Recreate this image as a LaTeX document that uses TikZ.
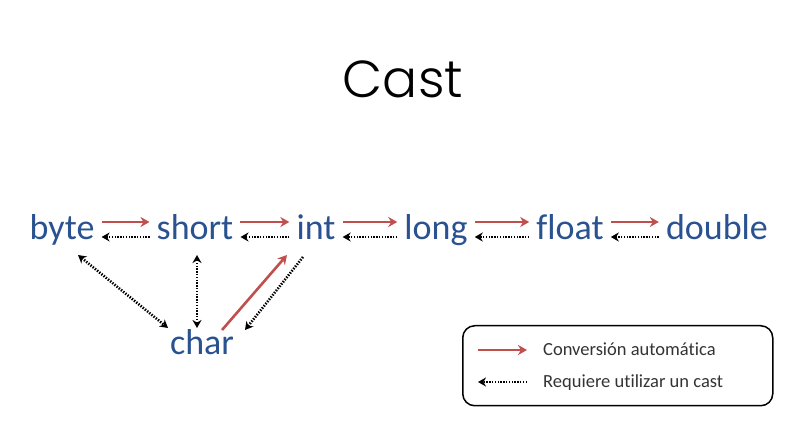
\documentclass[tikz,border=0pt]{standalone}
\usepackage{fontspec}
\setmainfont{Carlito}[RawFeature={-liga}]
\newfontfamily\titlefont{Poppins}[UprightFont=* Light]
\usetikzlibrary{arrows.meta,calc}
\definecolor{wordblue}{HTML}{2A5291}
\definecolor{convred}{HTML}{C0504D}
\definecolor{legendgray}{HTML}{333333}
\begin{document}
\begin{tikzpicture}[x=1pt,y=1pt,
  word/.style={anchor=base,text=wordblue,font=\fontsize{36}{40}\selectfont,inner sep=7pt},
  autoconv/.style={draw=convred,line width=2.6pt,-{Stealth[length=9pt,width=10pt]}},
  castconv/.style={draw=black,line width=2.6pt,dash pattern=on 1.4pt off 1.4pt,-{Stealth[length=8pt,width=9pt]}},
  castboth/.style={castconv,{Stealth[length=8pt,width=9pt]}-{Stealth[length=8pt,width=9pt]}},
  legendtext/.style={anchor=base west,text=legendgray,font=\fontsize{18.5}{22}\selectfont,inner sep=0pt}]
\useasboundingbox (0,0) rectangle (804,-443);
\node[anchor=base,font=\titlefont\fontsize{52}{60}\selectfont] (title) at (403,-98) {Cast};
\node[word] (byte) at (62,-240) {byte};
\node[word] (short) at (195,-240) {short};
\node[word] (int) at (316,-240) {int};
\node[word] (long) at (436,-240) {long};
\node[word] (float) at (570,-240) {float};
\node[word] (double) at (717,-240) {double};
\node[word] (char) at (202,-355) {char};
\foreach \a/\b in {byte/short,short/int,int/long,long/float,float/double}{
  \draw[autoconv] ([yshift=18pt]\a.base east) -- ([yshift=18pt]\b.base west);
  \draw[castconv] ([yshift=3pt]\b.base west) -- ([yshift=3pt]\a.base east);
}
\draw[castboth] ($(byte.base)+(16,-15)$) -- ($(char.base)+(-34,27)$);
\draw[castboth] ($(short.base)+(2,-15)$) -- ($(char.base)+(-5,27)$);
\draw[autoconv] ($(char.base)+(20,25)$) -- ($(int.base)+(-29,-15)$);
\draw[castconv] ($(int.base)+(-13,-17)$) -- ($(char.base)+(43,25)$);
% legend
\node[draw=black,line width=1.5pt,rounded corners=12pt,minimum width=310pt,minimum height=80pt,anchor=north west] (legend) at (462,-325) {};
\coordinate (la1) at ($(legend.north west)+(16,-25)$);
\coordinate (la2) at ($(legend.north west)+(65,-25)$);
\coordinate (lb1) at ($(legend.north west)+(65,-57)$);
\coordinate (lb2) at ($(legend.north west)+(16,-57)$);
\draw[autoconv] (la1) -- (la2);
\draw[castconv] (lb1) -- (lb2);
\node[legendtext] (ltext1) at ($(legend.north west)+(81,-31)$) {Conversión automática};
\node[legendtext] (ltext2) at ($(legend.north west)+(81,-63)$) {Requiere utilizar un cast};
\end{tikzpicture}
\end{document}
